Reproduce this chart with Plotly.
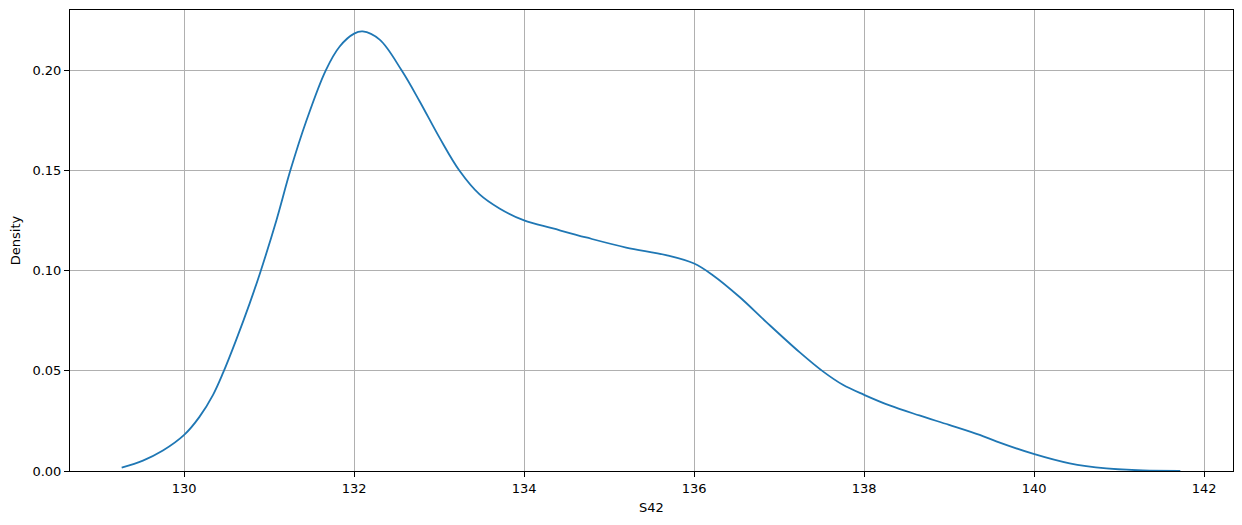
import plotly.graph_objects as go

# KDE curve of S42
s42 = [129.265, 129.515, 129.75, 130.00, 130.18, 130.34, 130.46, 130.61, 130.77,
       130.90, 131.085, 131.25, 131.44, 131.665, 131.83, 132.00, 132.10, 132.30,
       132.56, 132.77, 133.006, 133.24, 133.476, 133.71, 134.00, 134.34, 134.73,
       135.20, 135.67, 136.00, 136.22, 136.535, 136.85, 137.24, 137.515,
       137.75, 138.00, 138.30, 138.65, 139.00, 139.36, 139.555, 139.994, 140.418,
       140.85, 141.28, 141.72]
density = [0.0017, 0.0052, 0.0102, 0.0180, 0.0270, 0.0380, 0.0492, 0.0652, 0.0835,
           0.0997, 0.1250, 0.1500, 0.1750, 0.1998, 0.2118, 0.2182, 0.2193, 0.2152,
           0.1998, 0.1845, 0.1662, 0.1498, 0.1380, 0.1310, 0.1250, 0.1210, 0.1165,
           0.1115, 0.1077, 0.1035, 0.0977, 0.0868, 0.0743, 0.0593, 0.0497,
           0.0430, 0.0380, 0.0327, 0.0277, 0.0230, 0.0180, 0.0148, 0.0085, 0.0038,
           0.0013, 0.0003, 0.0001]

x_ticks = [130, 132, 134, 136, 138, 140, 142]
y_ticks = [0.0, 0.05, 0.10, 0.15, 0.20]

fig = go.Figure()
fig.add_trace(go.Scatter(x=s42, y=density, mode="lines",
                         line=dict(color="#1f77b4", width=1.8, shape="spline", smoothing=1.0),
                         showlegend=False, hoverinfo="skip"))

font = dict(family="DejaVu Sans, sans-serif", size=13, color="black")
fig.update_layout(
    width=1242, height=525,
    margin=dict(l=70, r=9, t=10, b=54),
    paper_bgcolor="white", plot_bgcolor="white",
    font=font,
)
fig.update_xaxes(
    range=[128.657, 142.34], tickvals=x_ticks, ticktext=[str(t) for t in x_ticks],
    showgrid=True, gridcolor="#b0b0b0", gridwidth=1,
    showline=True, linecolor="black", linewidth=1, mirror=True,
    ticks="outside", ticklen=5, tickcolor="black",
    zeroline=False,
    title=dict(text="S42", font=font, standoff=8),
)
fig.update_yaxes(
    range=[0, 0.23], tickvals=y_ticks, ticktext=[f"{t:.2f}" for t in y_ticks],
    showgrid=True, gridcolor="#b0b0b0", gridwidth=1,
    showline=True, linecolor="black", linewidth=1, mirror=True,
    ticks="outside", ticklen=5, tickcolor="black",
    zeroline=False,
    title=dict(text="Density", font=font, standoff=8),
)

fig.write_html("out.html", config={"displayModeBar": False},
               post_script="document.body.style.margin='0';")
